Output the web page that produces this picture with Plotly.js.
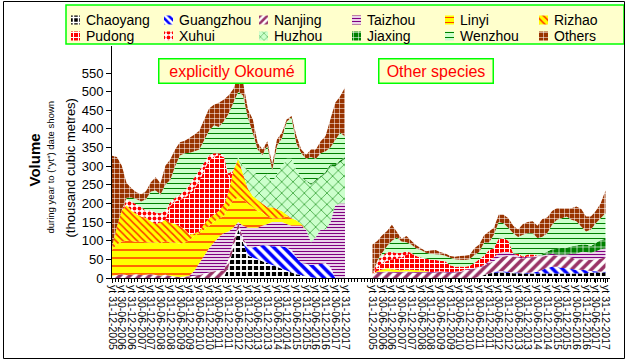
<!DOCTYPE html>
<html><head><meta charset="utf-8">
<script src="https://cdn.plot.ly/plotly-3.0.1.min.js"></script>
<style>html,body{margin:0;padding:0;background:#fff}#chart{width:628px;height:363px}</style>
</head><body><div id="chart"></div>
<script>
// ---- categories (quarterly points, "year to" dates) ----
const periods = ["2005-12",
"2006-03","2006-06","2006-09","2006-12","2007-03","2007-06","2007-09","2007-12",
"2008-03","2008-06","2008-09","2008-12","2009-03","2009-06","2009-09","2009-12",
"2010-03","2010-06","2010-09","2010-12","2011-03","2011-06","2011-09","2011-12",
"2012-03","2012-06","2012-09","2012-12","2013-03","2013-06","2013-09","2013-12",
"2014-03","2014-06","2014-09","2014-12","2015-03","2015-06","2015-09","2015-12",
"2016-03","2016-06","2016-09","2016-12","2017-03","2017-06","2017-09","2017-12"];

const tickLabels = ["yt 31-12-2005","yt 30-06-2006","yt 31-12-2006","yt 30-06-2007","yt 31-12-2007",
"yt 30-06-2008","yt 31-12-2008","yt 30-06-2009","yt 31-12-2009","yt 30-06-2010","yt 31-12-2010",
"yt 30-06-2011","yt 31-12-2011","yt 30-06-2012","yt 31-12-2012","yt 30-06-2013","yt 31-12-2013",
"yt 30-06-2014","yt 31-12-2014","yt 30-06-2015","yt 31-12-2015","yt 30-06-2016","yt 31-12-2016",
"yt 30-06-2017","yt 31-12-2017"];

const seriesNames = ["Chaoyang","Guangzhou","Nanjing","Taizhou","Linyi","Rizhao","Pudong","Xuhui","Huzhou","Jiaxing","Wenzhou","Others"];

// ---- explicitly Okoumé (thousand m3) ----
const okChaoyang = [0,0,0,0,0,0,0,0,0,0,0,0,0,0,0,0,0,0,0,0,0,0,0,0,30,80,130,95,60,55,50,45,40,35,30,25,20,15,10,8,5,2,0,0,0,0,0,0,0];
const okGuangzhou = [0,0,0,0,0,0,0,0,0,0,0,0,0,0,0,0,0,0,0,0,0,0,0,0,0,0,0,5,22,27,35,43,48,50,55,60,62,60,45,32,33,33,35,38,40,30,0,0,0];
const okNanjing = [6,8,10,8,9,10,8,9,10,8,7,9,6,4,3,4,5,6,8,12,15,18,20,20,20,20,18,8,0,0,0,0,0,0,0,0,0,0,0,0,0,0,0,0,0,0,0,0,0];
const okTaizhou = [0,0,0,0,0,0,0,0,0,0,0,0,0,0,0,0,2,14,32,48,65,77,90,100,75,35,2,32,53,53,50,52,57,65,65,65,63,65,85,100,92,60,75,92,90,120,195,200,200];
const okLinyi = [70,82,87,92,90,87,89,87,85,87,87,90,89,91,89,91,94,95,80,70,60,55,50,45,65,75,65,70,65,55,45,35,20,10,10,10,20,20,15,5,0,0,0,0,0,0,0,0,0];
const okRizhao = [7,48,85,95,82,75,68,65,57,50,55,57,53,50,47,35,15,5,5,15,20,20,20,30,40,80,105,70,40,30,30,25,25,30,25,20,5,0,0,0,0,0,0,0,0,0,0,0,0];
const okPudong = [0,0,0,0,0,0,0,0,0,0,0,0,45,60,70,85,110,120,135,145,155,155,150,130,40,0,0,0,0,0,0,0,0,0,0,0,0,0,0,0,0,0,0,0,0,0,0,0,0];
const okXuhui = [0,0,0,15,25,25,25,20,30,30,25,25,10,10,15,20,25,30,30,20,15,10,5,5,10,0,0,0,0,0,0,0,0,0,0,0,0,0,0,0,0,0,0,0,0,0,0,0,0];
const okHuzhou = [0,0,0,0,0,0,0,0,0,0,0,0,0,0,0,0,0,0,0,0,0,0,0,0,0,0,5,20,50,70,65,70,90,65,95,120,150,160,135,125,130,155,150,140,150,150,105,110,120];
const okJiaxing = [0,0,0,0,0,0,0,0,0,0,0,0,0,0,0,0,0,0,0,0,0,0,0,0,0,0,0,0,0,0,0,0,0,0,0,0,0,0,0,0,3,3,4,4,5,5,5,5,5];
const okWenzhou = [0,0,0,5,10,15,15,30,50,60,50,70,60,85,105,100,85,70,55,60,65,75,70,90,160,180,175,190,140,100,70,60,75,35,75,75,100,110,70,65,57,72,56,61,55,45,65,75,55];
const okOthers = [245,187,120,40,25,18,20,22,25,35,30,50,55,45,35,33,40,45,50,55,60,55,65,58,50,37,43,35,23,36,18,15,12,15,17,15,6,5,21,10,11,20,25,32,41,76,100,98,131];

// ---- other species (thousand m3) ----
const otChaoyang = [0,0,0,0,0,0,0,0,0,0,0,0,0,0,0,0,0,0,0,0,0,0,3,8,12,14,15,15,14,13,13,12,12,12,12,12,12,12,12,12,12,12,12,12,13,14,15,15,15];
const otGuangzhou = [0,0,0,0,0,0,0,0,0,0,0,0,0,0,0,0,0,0,0,0,0,0,0,0,0,2,3,3,2,2,2,2,2,3,5,10,15,18,18,15,15,12,10,10,8,5,3,2,2];
const otNanjing = [10,14,15,16,15,14,15,16,15,14,15,15,14,15,16,15,14,15,16,20,22,25,25,25,28,29,37,40,44,43,40,38,41,40,41,36,33,32,30,31,31,31,28,28,27,29,32,35,38];
const otTaizhou = [0,2,2,2,2,2,2,2,2,2,2,2,2,2,2,2,2,2,2,2,2,2,2,2,5,10,12,12,10,8,5,3,3,3,3,3,3,3,3,5,5,10,15,20,22,20,22,25,25];
const otLinyi = [0,3,5,6,6,5,4,5,5,5,4,2,0,0,0,0,0,0,0,0,0,0,0,0,0,0,0,0,0,0,0,0,0,0,0,0,0,0,0,0,0,0,0,0,0,0,0,0,0];
const otRizhao = [0,0,1,2,2,1,0,0,0,0,0,0,0,0,0,0,0,0,0,0,0,0,0,0,0,0,0,0,0,0,0,0,0,0,0,0,0,0,0,0,0,0,0,0,0,0,0,0,0];
const otPudong = [0,10,17,20,25,29,34,40,43,38,34,33,33,31,28,28,18,13,13,8,8,13,20,25,30,25,38,37,30,0,5,3,5,5,0,0,0,0,0,0,0,0,0,0,0,0,0,0,0];
const otXuhui = [0,15,20,23,20,16,13,8,3,0,0,0,0,0,0,0,0,0,0,0,0,0,0,0,0,0,0,0,0,0,0,0,0,0,0,0,0,0,0,0,0,0,0,0,0,0,0,0,0];
const otHuzhou = [0,0,0,0,0,0,0,0,0,0,0,0,0,0,0,0,0,0,0,0,0,0,0,0,0,0,0,0,0,0,0,0,0,0,0,0,0,0,0,0,0,0,0,0,0,0,0,0,0];
const otJiaxing = [0,0,0,0,0,0,0,0,0,0,0,0,0,0,0,0,0,0,0,0,0,0,0,0,0,0,0,0,0,0,0,0,0,0,0,3,8,12,15,18,18,20,22,20,20,18,22,25,25];
const otWenzhou = [0,3,8,17,30,42,30,25,22,20,20,16,16,16,17,15,20,20,18,18,18,22,20,35,20,36,45,40,34,54,45,58,57,57,46,47,49,66,78,79,84,71,65,48,35,44,53,58,69];
const otOthers = [80,52,47,40,43,15,7,17,10,9,5,4,9,11,6,6,5,7,10,12,12,18,20,20,30,19,20,23,26,20,20,29,30,32,33,47,42,37,32,27,22,31,40,47,40,35,33,40,61];

const yTicks = [0,50,100,150,200,250,300,350,400,450,500,550];

// ---- styles ----
const styles = {
  Chaoyang:  {shape:'+',  bg:'#000000', fg:'#ffffff', size:6, sol:0.5},
  Guangzhou: {shape:'\\', bg:'#ffffff', fg:'#0000ff', size:7, sol:0.5},
  Nanjing:   {shape:'/',  bg:'#ffffff', fg:'#993366', size:7, sol:0.5},
  Taizhou:   {shape:'-',  bg:'#ffffff', fg:'#800080', size:3, sol:0.45},
  Linyi:     {shape:'-',  bg:'#ffff00', fg:'#ff0000', size:8, sol:0.15},
  Rizhao:    {shape:'\\', bg:'#ffff00', fg:'#ff3300', size:5, sol:0.3},
  Pudong:    {shape:'+',  bg:'#ff0000', fg:'#ffffff', size:5, sol:0.35},
  Xuhui:     {shape:'.',  bg:'#ffffff', fg:'#ff0000', size:5, sol:0.45},
  Huzhou:    {shape:'x',  bg:'#ccffcc', fg:'#008000', size:8, sol:0.14},
  Jiaxing:   {shape:'+',  bg:'#008000', fg:'#ffffff', size:6, sol:0.2},
  Wenzhou:   {shape:'-',  bg:'#ccffcc', fg:'#008000', size:5, sol:0.2},
  Others:    {shape:'+',  bg:'#993300', fg:'#ffffff', size:5, sol:0.2}
};

const FONT = 'Liberation Sans, Arial, sans-serif';
const PANEL2_OFFSET = 161;          // months between the two panel starts
function monthIndex(y, m){ return (y - 2005) * 12 + (m - 12); }
const xOk = periods.map(p => { const a = p.split('-').map(Number); return monthIndex(a[0], a[1]); });
const xOt = xOk.map(v => v + PANEL2_OFFSET);
const tickMonths = tickLabels.map(t => { const a = t.slice(3).split('-').map(Number); return monthIndex(a[2], a[1]); });
const tickvals = tickMonths.concat(tickMonths.map(v => v + PANEL2_OFFSET));
const ticktext = tickLabels.concat(tickLabels);

const okData = [okChaoyang,okGuangzhou,okNanjing,okTaizhou,okLinyi,okRizhao,okPudong,okXuhui,okHuzhou,okJiaxing,okWenzhou,okOthers];
const otData = [otChaoyang,otGuangzhou,otNanjing,otTaizhou,otLinyi,otRizhao,otPudong,otXuhui,otHuzhou,otJiaxing,otWenzhou,otOthers];

function pat(st, sz){ return {shape:st.shape, bgcolor:st.bg, fgcolor:st.fg, size:sz || st.size, solidity:st.sol, fillmode:'replace'}; }

const traces = [];
seriesNames.forEach((n, i) => {
  const st = styles[n];
  const common = {type:'scatter', mode:'none', fillcolor:st.bg, fillpattern:pat(st), line:{width:0}, showlegend:false, hoverinfo:'skip', name:n};
  traces.push(Object.assign({}, common, {x:xOk, y:okData[i], stackgroup:'ok'}));
  traces.push(Object.assign({}, common, {x:xOt, y:otData[i], stackgroup:'ot'}));
});

// ---- custom legend (two rows of six) ----
const legendColX = [5, 98, 193, 286, 379, 473];
const legendRowY = [24, 8];
const annotations = [];
seriesNames.forEach((n, i) => {
  const st = styles[n];
  const cx = legendColX[i % 6], cy = legendRowY[Math.floor(i / 6)];
  const h = 4.5, w = 9;
  traces.push({type:'scatter', mode:'none', xaxis:'x2', yaxis:'y2',
    x:[cx, cx + w, cx + w, cx, cx], y:[cy - h, cy - h, cy + h, cy + h, cy - h],
    fill:'toself', fillcolor:st.bg, fillpattern:pat(st, Math.min(st.size, 5)), line:{width:0},
    showlegend:false, hoverinfo:'skip'});
  annotations.push({xref:'x2', yref:'y2', x:cx + 13, y:cy, text:n, showarrow:false,
    xanchor:'left', yanchor:'middle', font:{family:FONT, size:14, color:'#000'}});
});

// panel labels
const boxStyle = {showarrow:false, xref:'paper', yref:'paper', bgcolor:'#ffffcc', bordercolor:'#00ff00', borderwidth:1.5, borderpad:1, height:21};
annotations.push(Object.assign({}, boxStyle, {x:231.5/628, y:(278-58.3)/278, width:143, text:'explicitly Okoumé', font:{family:FONT, size:16, color:'#ff0000'}}));
annotations.push(Object.assign({}, boxStyle, {x:494/628, y:(278-58.3)/278, width:111, text:'Other species', font:{family:FONT, size:16, color:'#ff0000'}}));

// y-axis titles
annotations.push({xref:'paper', yref:'paper', x:23/628, y:(278-160)/278, text:'<b>Volume</b>', textangle:-90, showarrow:false, font:{family:FONT, size:15, color:'#000'}});
annotations.push({xref:'paper', yref:'paper', x:42/628, y:(278-168)/278, text:'during year to ("yt") date shown', textangle:-90, showarrow:false, font:{family:FONT, size:9.5, color:'#000'}});
annotations.push({xref:'paper', yref:'paper', x:60/628, y:(278-168)/278, text:'(thousand cubic metres)', textangle:-90, showarrow:false, font:{family:FONT, size:13, color:'#000'}});

const layout = {
  width:628, height:363,
  margin:{l:0, r:0, t:0, b:85, pad:0},
  paper_bgcolor:'#ffffff', plot_bgcolor:'rgba(0,0,0,0)',
  font:{family:FONT, color:'#000'},
  showlegend:false,
  xaxis:{domain:[112/628, 610/628], range:[0, 307.8], tickmode:'array', tickvals:tickvals, ticktext:ticktext,
    tickangle:90, ticks:'outside', ticklen:4, tickcolor:'#000', showline:true, linecolor:'#000', linewidth:1,
    showgrid:false, zeroline:false, tickfont:{family:FONT, size:10.5, color:'#000'}, fixedrange:true,
    minor:{tickmode:'linear', tick0:0, dtick:2, ticks:'outside', ticklen:3, tickcolor:'#000', showgrid:false}},
  yaxis:{domain:[0, (278-46)/278], range:[0, 622.5], tickmode:'array', tickvals:yTicks,
    ticks:'outside', ticklen:5, tickcolor:'#000', showline:true, linecolor:'#000', linewidth:1,
    showgrid:false, zeroline:false, tickfont:{family:FONT, size:13, color:'#000'}, fixedrange:true},
  xaxis2:{domain:[66/628, 624/628], range:[0, 558], visible:false, fixedrange:true},
  yaxis2:{domain:[(278-44)/278, (278-5)/278], range:[0, 39], visible:false, fixedrange:true},
  shapes:[
    {type:'rect', xref:'x2 domain', yref:'y2 domain', x0:0, x1:1, y0:0, y1:1, fillcolor:'#ffffcc', line:{color:'#00ff00', width:1.5}, layer:'below'},
    {type:'rect', xref:'paper', yref:'paper', x0:3.5/628, x1:624.5/628, y0:(278-358.5)/278, y1:(278-1.5)/278, line:{color:'#000', width:1}, fillcolor:'rgba(0,0,0,0)'}
  ],
  annotations:annotations
};

Plotly.newPlot('chart', traces, layout, {displayModeBar:false, staticPlot:true});
</script>
</body></html>
